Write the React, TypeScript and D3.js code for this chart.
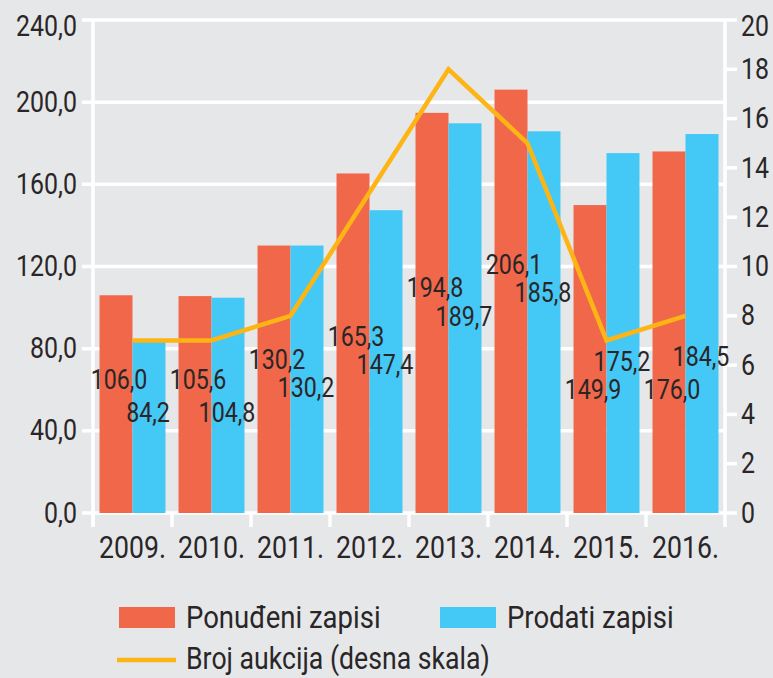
import React from 'react';
import * as d3 from 'd3';

const years = ['2009.', '2010.', '2011.', '2012.', '2013.', '2014.', '2015.', '2016.'];
const offered = [106.0, 105.6, 130.2, 165.3, 194.8, 206.1, 149.9, 176.0];
const sold = [84.2, 104.8, 130.2, 147.4, 189.7, 185.8, 175.2, 184.5];
const auctions = [7, 7, 8, 13, 18, 15, 7, 8];

const leftTicks = [0, 40, 80, 120, 160, 200, 240];
const rightTicks = [0, 2, 4, 6, 8, 10, 12, 14, 16, 18, 20];

// where the value labels sit, in left-axis units (they were hand placed in the original)
const offeredLabelAt = [64.8, 64.8, 74.5, 85.7, 109.5, 120.7, 59.9, 59.9];
const soldLabelAt = [48.7, 48.7, 60.9, 72.1, 95.4, 107.1, 73.5, 75.9];

const W = 773;
const H = 678;
const FONT = 'Roboto, sans-serif';
const ORANGE = '#f1674a';
const BLUE = '#44c8f5';
const GOLD = '#fdb515';
const INK = '#2a2627';
const SQUEEZE = 0.86; // the original uses a narrow face

const fmt = (v: number) => d3.format('.1f')(v).replace('.', ',');

// narrow text: Roboto squeezed horizontally
const T: React.FC<{ x: number; y: number; size: number; anchor?: string; baseline?: string; children: React.ReactNode }> =
  ({ x, y, size, anchor = 'start', baseline = 'central', children }) => (
    <text transform={`translate(${x},${y}) scale(${SQUEEZE},1)`} fontSize={size} fill={INK}
      textAnchor={anchor} dominantBaseline={baseline}>{children}</text>
  );

const App: React.FC = () => {
  const left = 93;
  const right = 725;
  const top = 20;
  const bottom = 513;

  const x = d3.scaleBand<string>().domain(years).range([left, right]).paddingInner(0.165).paddingOuter(0.0825);
  const x1 = d3.scaleBand<string>().domain(['o', 's']).range([0, x.bandwidth()]);
  const y = d3.scaleLinear().domain([0, 240]).range([bottom, top]);
  const y2 = d3.scaleLinear().domain([0, 20]).range([bottom, top]);

  const line = d3.line<number>()
    .x((_d, i) => (x(years[i]) as number) + x.bandwidth() / 2)
    .y(d => y2(d));

  const step = x.step();

  return (
    <svg width={W} height={H} style={{ position: 'absolute', left: 0, top: 0 }} fontFamily={FONT}>
      <rect x={0} y={0} width={W} height={H} fill="#e6e7e9" />

      {/* grid */}
      {leftTicks.map(t => (
        <line key={'g' + t} x1={left - 11} x2={right + 1} y1={y(t)} y2={y(t)} stroke="#fff" strokeWidth={3.5} />
      ))}
      <line x1={left} x2={left} y1={top} y2={bottom + 14} stroke="#fff" strokeWidth={3.5} />
      <line x1={right} x2={right} y1={top} y2={bottom + 14} stroke="#fff" strokeWidth={3.5} />
      {years.map((yr, i) => (
        <line key={'xt' + yr} x1={left + step * i} x2={left + step * i} y1={bottom} y2={bottom + 14} stroke="#fff" strokeWidth={3.5} />
      ))}
      {rightTicks.map(t => (
        <line key={'rt' + t} x1={right} x2={right + 12} y1={y2(t)} y2={y2(t)} stroke="#fff" strokeWidth={3.5} />
      ))}

      {/* bars */}
      {years.map((yr, i) => (
        <g key={'b' + yr} transform={`translate(${x(yr)},0)`}>
          <rect x={x1('o')} y={y(offered[i])} width={x1.bandwidth()} height={bottom - y(offered[i])} fill={ORANGE} />
          <rect x={x1('s')} y={y(sold[i])} width={x1.bandwidth()} height={bottom - y(sold[i])} fill={BLUE} />
        </g>
      ))}

      <path d={line(auctions) || ''} fill="none" stroke={GOLD} strokeWidth={4.5} strokeLinejoin="miter" />

      {/* value labels */}
      {years.map((yr, i) => (
        <g key={'l' + yr}>
          <T x={(x(yr) as number) + (x1('o') as number) + x1.bandwidth() / 2 + 3} y={y(offeredLabelAt[i])} size={27} anchor="middle">{fmt(offered[i])}</T>
          <T x={(x(yr) as number) + (x1('s') as number) + x1.bandwidth() / 2 - 1} y={y(soldLabelAt[i])} size={27} anchor="middle">{fmt(sold[i])}</T>
        </g>
      ))}

      {/* axes labels */}
      {leftTicks.map(t => (
        <T key={'ll' + t} x={77} y={Math.max(y(t), top + 6)} size={29} anchor="end">{fmt(t)}</T>
      ))}
      {rightTicks.map(t => (
        <T key={'rl' + t} x={741} y={Math.max(y2(t), top + 6)} size={29}>{t}</T>
      ))}
      {years.map(yr => (
        <T key={'yl' + yr} x={(x(yr) as number) + x.bandwidth() / 2} y={558} size={31} anchor="middle" baseline="alphabetic">{yr}</T>
      ))}

      {/* legend */}
      <rect x={119} y={607} width={56} height={21} fill={ORANGE} />
      <T x={186} y={617} size={32}>Ponuđeni zapisi</T>
      <rect x={440} y={607} width={56} height={21} fill={BLUE} />
      <T x={507} y={617} size={32}>Prodati zapisi</T>
      <line x1={117} x2={176} y1={660} y2={660} stroke={GOLD} strokeWidth={4.5} />
      <T x={186} y={658} size={31}>Broj aukcija (desna skala)</T>
    </svg>
  );
};

export default App;
